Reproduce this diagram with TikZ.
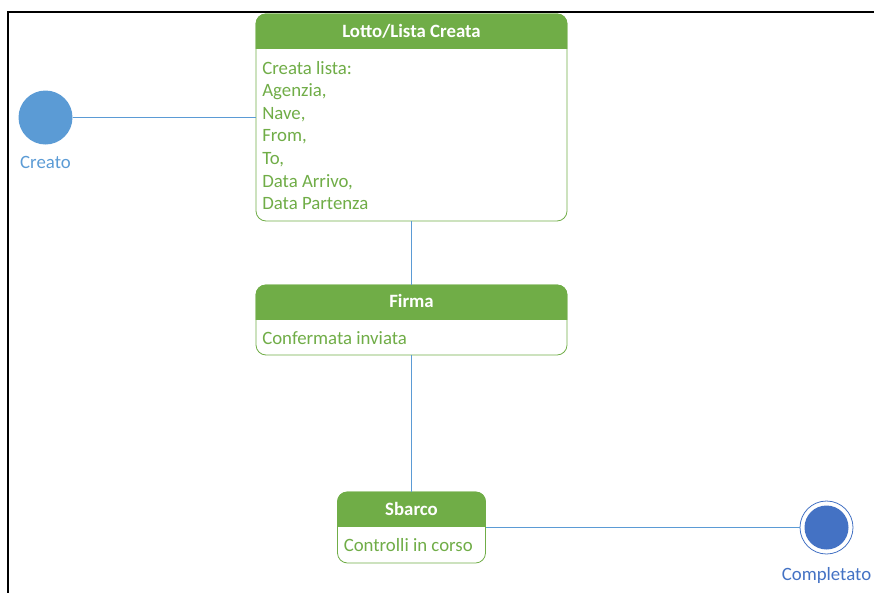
\documentclass[tikz,border=0pt]{standalone}
\usepackage{fontspec}
\setmainfont{Carlito}
\usetikzlibrary{calc}
\definecolor{grn}{HTML}{70AD47}
\definecolor{lblue}{HTML}{5B9BD5}
\definecolor{dblue}{HTML}{4472C4}
\tikzset{
  statebox/.style={draw=grn, line width=0.8pt, rounded corners=10pt, fill=white, inner sep=0pt},
  htext/.style={text=white, font=\fontsize{18.8}{22}\selectfont\bfseries, anchor=base, inner sep=0pt},
  btext/.style={text=grn, font=\fontsize{18.8}{22}\selectfont, anchor=base west, inner sep=0pt},
  connline/.style={draw=lblue, line width=1.3pt},
  lbl/.style={font=\fontsize{18.8}{22}\selectfont, anchor=base, inner sep=0pt}
}
\begin{document}
\begin{tikzpicture}[x=1pt,y=-1pt]
\useasboundingbox (0,0) rectangle (874,592);
\draw[line width=2pt] (8,593) -- (8,12) -- (875,12);

% states
\node[statebox, minimum width=311pt, minimum height=207pt] (b1) at (411.5,117.5) {};
\node[statebox, minimum width=311pt, minimum height=70pt] (b2) at (411.5,320) {};
\node[statebox, minimum width=148pt, minimum height=71pt] (b3) at (411.5,527.5) {};

% headers
\foreach \b in {b1,b2,b3}{
  \begin{scope}
    \clip ($(\b.north west)+(-2,-2)$) rectangle ($(\b.north east)+(2,35)$);
    \fill[grn, rounded corners=10pt] (\b.north west) rectangle (\b.south east);
  \end{scope}
}
\node[htext] (h1) at ($(b1.north)+(0,23.5)$) {Lotto/Lista Creata};
\node[htext] (h2) at ($(b2.north)+(0,23)$) {Firma};
\node[htext] (h3) at ($(b3.north)+(0,24)$) {Sbarco};

% bodies
\foreach \t [count=\i from 0] in {{Creata lista:},{Agenzia,},{Nave,},{From,},{To,},{Data Arrivo,},{Data Partenza}}{
  \node[btext] (t\i) at ($(b1.north west)+(6.5,60.5+22.6*\i)$) {\t};
}
\node[btext] (t2b) at ($(b2.north west)+(6.5,59.8)$) {Confermata inviata};
\node[btext] (t3b) at ($(b3.north west)+(6.5,60.2)$) {Controlli in corso};

% initial and final
\node[circle, fill=lblue, minimum size=54pt, inner sep=0pt] (s) at (45.5,117.5) {};
\node[lbl, text=lblue] (sl) at (45.5,168) {Creato};
\node[circle, draw=dblue, fill=white, line width=0.8pt, minimum size=53pt, inner sep=0pt] (e) at (826.5,527.5) {};
\node[circle, fill=dblue, minimum size=44pt, inner sep=0pt] (ei) at (e.center) {};
\node[lbl, text=dblue] (el) at (826.5,580) {Completato};

% connectors
\path[connline] (s.east) -- (b1.west);
\path[connline] (b1.south) -- (b2.north);
\path[connline] (b2.south) -- (b3.north);
\path[connline] (b3.east) -- (e.west);
\end{tikzpicture}
\end{document}
